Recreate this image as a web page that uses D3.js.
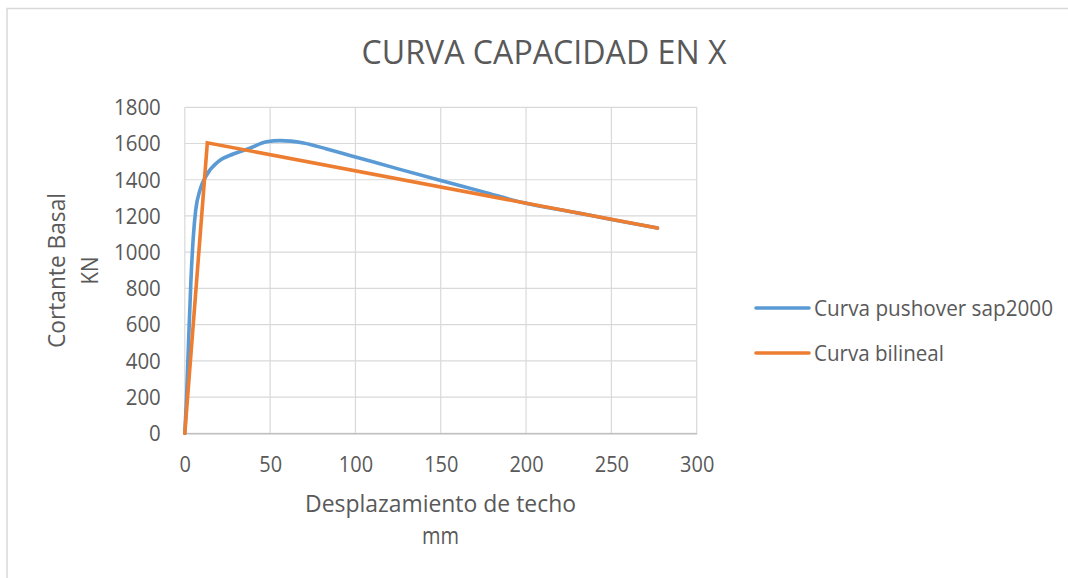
<!DOCTYPE html>
<html>
<head>
<meta charset="utf-8">
<script src="https://cdn.jsdelivr.net/npm/d3@7"></script>
<style>
  html, body { margin: 0; padding: 0; background: #fff; }
  svg { display: block; }
  text { font-family: "Open Sans", "Liberation Sans", sans-serif; fill: #595959; }
</style>
</head>
<body>
<svg id="chart" width="1068" height="578"></svg>
<script>
// ---- data ----
const chartTitle = "CURVA CAPACIDAD EN X";
const xTitleLines = ["Desplazamiento de techo", "mm"];
const yTitleLines = ["Cortante Basal", "KN"];
const seriesNames = ["Curva pushover sap2000", "Curva bilineal"];
const xTicks = [0, 50, 100, 150, 200, 250, 300];
const yTicks = [0, 200, 400, 600, 800, 1000, 1200, 1400, 1600, 1800];

// pushover curve (displacement mm, base shear kN)
const pushoverX = [0, 1.0, 2.1, 3.6, 5.0, 6.4, 8.9, 12.8, 19.6, 28.4, 38.1, 47.9, 55.8, 69.5, 83.2, 100, 125, 150, 175, 198, 230, 250, 277];
const pushoverY = [0, 190, 478, 846, 1086, 1233, 1343, 1426, 1500, 1542, 1574, 1610, 1616, 1603, 1570, 1526, 1460, 1396, 1333, 1274, 1217, 1181, 1133];
// bilinear idealisation
const bilinealX = [0, 13.2, 277];
const bilinealY = [0, 1604, 1133];

// ---- drawing ----
const svg = d3.select("#chart");
const x = d3.scaleLinear().domain([0, 300]).range([184.8, 696.7]);
const y = d3.scaleLinear().domain([0, 1800]).range([433.3, 107.3]);

// outer chart border (only top/left visible)
svg.append("rect")
  .attr("x", 7).attr("y", 8.5).attr("width", 1100).attr("height", 600)
  .attr("fill", "none").attr("stroke", "#d9d9d9").attr("stroke-width", 1.5);

// gridlines
const grid = svg.append("g");
grid.selectAll("line.h").data(yTicks).join("line")
  .attr("x1", x(0)).attr("x2", x(300))
  .attr("y1", d => y(d)).attr("y2", d => y(d))
  .attr("stroke", "#d9d9d9").attr("stroke-width", 1.2);
grid.selectAll("line.v").data(xTicks).join("line")
  .attr("x1", d => x(d)).attr("x2", d => x(d))
  .attr("y1", y(0)).attr("y2", y(1800))
  .attr("stroke", "#d9d9d9").attr("stroke-width", 1.2);

// axes
const fmt = d3.format("d");
const xAxis = d3.axisBottom(x).tickValues(xTicks).tickFormat(fmt).tickSize(0).tickPadding(24);
const gx = svg.append("g").attr("transform", `translate(0,${y(0)})`).call(xAxis);
gx.select(".domain").attr("stroke", "#bfbfbf").attr("stroke-width", 1.5);
gx.selectAll("text").attr("font-size", 21).attr("fill", "#595959")
  .attr("font-family", "\"Open Sans\", sans-serif")
  .attr("textLength", d => fmt(d).length * 11.4).attr("lengthAdjust", "spacingAndGlyphs");

const yAxis = d3.axisLeft(y).tickValues(yTicks).tickFormat(fmt).tickSize(0).tickPadding(24);
const gy = svg.append("g").attr("transform", `translate(${x(0)},0)`).call(yAxis);
gy.select(".domain").remove();
gy.selectAll("text").attr("font-size", 21).attr("fill", "#595959")
  .attr("font-family", "\"Open Sans\", sans-serif")
  .attr("textLength", d => fmt(d).length * 11.7).attr("lengthAdjust", "spacingAndGlyphs")
  .attr("dy", "0.35em");

// lines
const pushData = pushoverX.map((d, i) => [d, pushoverY[i]]);
const biData = bilinealX.map((d, i) => [d, bilinealY[i]]);
svg.append("path").datum(pushData)
  .attr("d", d3.line().x(d => x(d[0])).y(d => y(d[1])).curve(d3.curveMonotoneX))
  .attr("fill", "none").attr("stroke", "#5b9bd5").attr("stroke-width", 3.6)
  .attr("stroke-linejoin", "round").attr("stroke-linecap", "round");
svg.append("path").datum(biData)
  .attr("d", d3.line().x(d => x(d[0])).y(d => y(d[1])))
  .attr("fill", "none").attr("stroke", "#ed7d31").attr("stroke-width", 3.6)
  .attr("stroke-linejoin", "miter").attr("stroke-linecap", "round");

// title
svg.append("text").attr("x", 544).attr("y", 64)
  .attr("text-anchor", "middle").attr("font-size", 32)
  .attr("textLength", 365).attr("lengthAdjust", "spacingAndGlyphs")
  .text(chartTitle);

// x axis title
svg.append("text").attr("x", 440.5).attr("y", 511.5)
  .attr("text-anchor", "middle").attr("font-size", 23)
  .attr("textLength", 271).attr("lengthAdjust", "spacingAndGlyphs")
  .text(xTitleLines[0]);
svg.append("text").attr("x", 440.5).attr("y", 544)
  .attr("text-anchor", "middle").attr("font-size", 23)
  .attr("textLength", 37).attr("lengthAdjust", "spacingAndGlyphs")
  .text(xTitleLines[1]);

// y axis title
svg.append("text").attr("transform", "translate(65,270.5) rotate(-90)")
  .attr("text-anchor", "middle").attr("font-size", 23)
  .attr("textLength", 155).attr("lengthAdjust", "spacingAndGlyphs")
  .text(yTitleLines[0]);
svg.append("text").attr("transform", "translate(98,270.5) rotate(-90)")
  .attr("text-anchor", "middle").attr("font-size", 23)
  .attr("textLength", 28).attr("lengthAdjust", "spacingAndGlyphs")
  .text(yTitleLines[1]);

// legend
const legendColors = ["#5b9bd5", "#ed7d31"];
const legendW = [239, 130];
const lg = svg.append("g");
seriesNames.forEach((name, i) => {
  const cy = 308 + i * 45;
  lg.append("line").attr("x1", 756).attr("x2", 809).attr("y1", cy).attr("y2", cy)
    .attr("stroke", legendColors[i]).attr("stroke-width", 3.6).attr("stroke-linecap", "round");
  lg.append("text").attr("x", 814).attr("y", cy + 8).attr("font-size", 21)
    .attr("textLength", legendW[i]).attr("lengthAdjust", "spacingAndGlyphs")
    .text(name);
});
</script>
</body>
</html>
